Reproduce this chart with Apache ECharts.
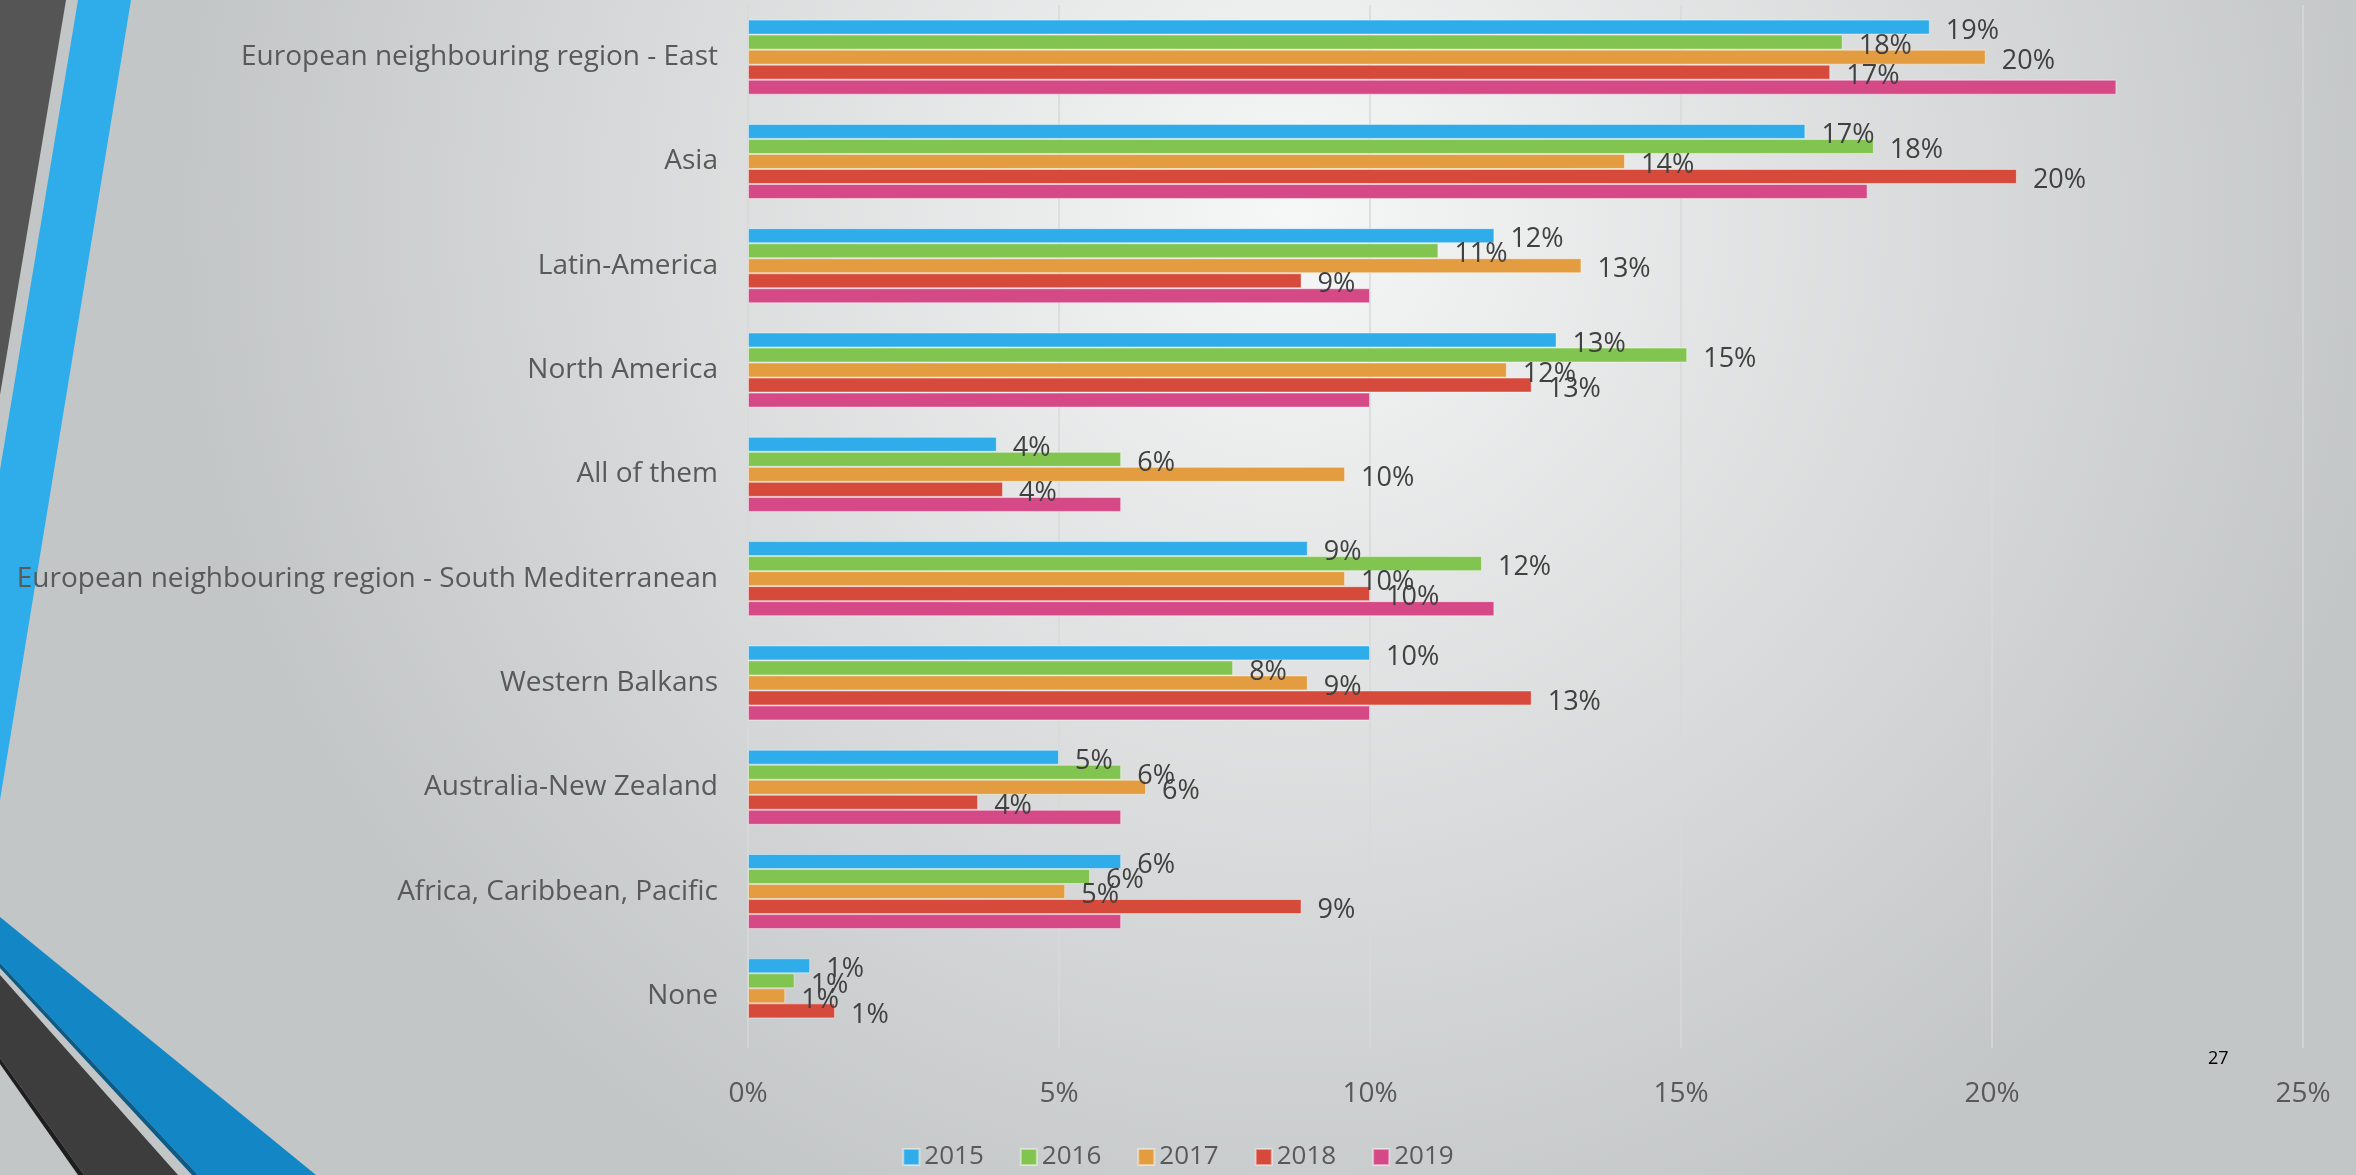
<!DOCTYPE html>
<html>
<head>
<meta charset="utf-8">
<title>Regions</title>
<script src="https://cdn.jsdelivr.net/npm/echarts@6/dist/echarts.min.js"></script>
<style>
	html, body { margin: 0; padding: 0; }
	#chart { width: 2356px; height: 1175px; }
</style>
</head>
<body>
<div id="chart"></div>
<script>
var categories = [ 'European neighbouring region - East', 'Asia', 'Latin-America', 'North America',
		'All of them', 'European neighbouring region - South Mediterranean', 'Western Balkans',
		'Australia-New Zealand', 'Africa, Caribbean, Pacific', 'None' ];
var years = [ '2015', '2016', '2017', '2018', '2019' ];
var values2015 = [ 19.0, 17.0, 12.0, 13.0, 4.0, 9.0, 10.0, 5.0, 6.0, 1.0 ];
var values2016 = [ 17.6, 18.1, 11.1, 15.1, 6.0, 11.8, 7.8, 6.0, 5.5, 0.75 ];
var values2017 = [ 19.9, 14.1, 13.4, 12.2, 9.6, 9.6, 9.0, 6.4, 5.1, 0.6 ];
var values2018 = [ 17.4, 20.4, 8.9, 12.6, 4.1, 10.0, 12.6, 3.7, 8.9, 1.4 ];
var values2019 = [ 22.0, 18.0, 10.0, 10.0, 6.0, 12.0, 10.0, 6.0, 6.0, null ];
var tickValues = [ 0, 5, 10, 15, 20, 25 ];
var pageNumber = '27';

var colors = [ '#2FACEA', '#82C450', '#E39C3F', '#D64A3B', '#D64987' ];

var RegionChart = {
	init : function() {
		var chart = echarts.init(document.getElementById('chart'));
		chart.setOption(RegionChart.buildOption(), true);
	},
	/**
	 * one bar series per year, 2019 has no labels in the source
	 */
	buildSeries : function() {
		var lists = [ values2015, values2016, values2017, values2018, values2019 ];
		var series = [];
		for (var i = 0; i < years.length; i++) {
			series.push({
				name : years[i],
				type : 'bar',
				barGap : '0%',
				barCategoryGap : '28%',
				itemStyle : {
					color : colors[i],
					borderColor : 'rgba(255,255,255,0.45)',
					borderWidth : 1
				},
				label : {
					show : i < 4,
					position : 'right',
					distance : 16,
					offset : [ 0, 4 ],
					color : '#404040',
					fontFamily : 'Open Sans',
					fontSize : 27,
					formatter : function(p) {
						return Math.round(p.value) + '%';
					}
				},
				data : lists[i]
			});
		}
		return series;
	},
	/**
	 * slide decoration, left stripes
	 */
	buildGraphic : function() {
		return [ {
			type : 'polygon', z : -1, silent : true,
			shape : { points : [ [ 0, 0 ], [ 66, 0 ], [ 0, 395 ] ] },
			style : { fill : '#555555' }
		}, {
			type : 'polygon', z : -1, silent : true,
			shape : { points : [ [ 78, 0 ], [ 131, 0 ], [ 0, 800 ], [ 0, 470 ] ] },
			style : { fill : '#2FACEA' }
		}, {
			type : 'polygon', z : -1, silent : true,
			shape : { points : [ [ 0, 917 ], [ 316, 1175 ], [ 198, 1175 ], [ 0, 963 ] ] },
			style : { fill : '#1387C5' }
		}, {
			type : 'polygon', z : -1, silent : true,
			shape : { points : [ [ 0, 963 ], [ 198, 1175 ], [ 192, 1175 ], [ 0, 968 ] ] },
			style : { fill : '#0C5A86' }
		}, {
			type : 'polygon', z : -1, silent : true,
			shape : { points : [ [ 0, 975 ], [ 178, 1175 ], [ 84, 1175 ], [ 0, 1058 ] ] },
			style : { fill : '#3D3D3D' }
		}, {
			type : 'polygon', z : -1, silent : true,
			shape : { points : [ [ 0, 1058 ], [ 84, 1175 ], [ 78, 1175 ], [ 0, 1064 ] ] },
			style : { fill : '#1E1E1E' }
		}, {
			type : 'text', silent : true,
			left : 2208, top : 1050,
			style : {
				text : pageNumber,
				fill : '#000000',
				font : '18px "Open Sans"'
			}
		} ];
	},

	buildOption : function() {
		var option = {
			backgroundColor : {
				type : 'radial',
				x : 0.55, y : 0.18, r : 0.95,
				colorStops : [ { offset : 0, color : '#f6f7f7' }, { offset : 1, color : '#c3c6c7' } ]
			},
			color : colors,
			textStyle : {
				fontFamily : 'Open Sans'
			},
			graphic : RegionChart.buildGraphic(),
			legend : {
				data : years,
				left : 'center',
				top : 1139,
				itemWidth : 16,
				itemHeight : 16,
				itemGap : 36,
				icon : 'rect',
				textStyle : {
					color : '#595959',
					fontSize : 26
				}
			},
			grid : {
				left : 748,
				right : 53,
				top : 5,
				bottom : 127,
				containLabel : false
			},
			xAxis : {
				type : 'value',
				min : tickValues[0],
				max : tickValues[tickValues.length - 1],
				interval : tickValues[1] - tickValues[0],
				axisLine : { show : false },
				axisTick : { show : false },
				splitLine : {
					lineStyle : { color : '#d9d9d9', width : 1.5 }
				},
				axisLabel : {
					margin : 32,
					color : '#595959',
					fontSize : 28,
					formatter : '{value}%'
				}
			},
			yAxis : {
				type : 'category',
				inverse : true,
				data : categories,
				axisLine : { show : false },
				axisTick : { show : false },
				axisLabel : {
					margin : 30,
					color : '#595959',
					fontSize : 28
				}
			},
			series : RegionChart.buildSeries()
		};
		return option;
	}
};
window.onload = function() {
	RegionChart.init();
};
</script>
</body>
</html>
